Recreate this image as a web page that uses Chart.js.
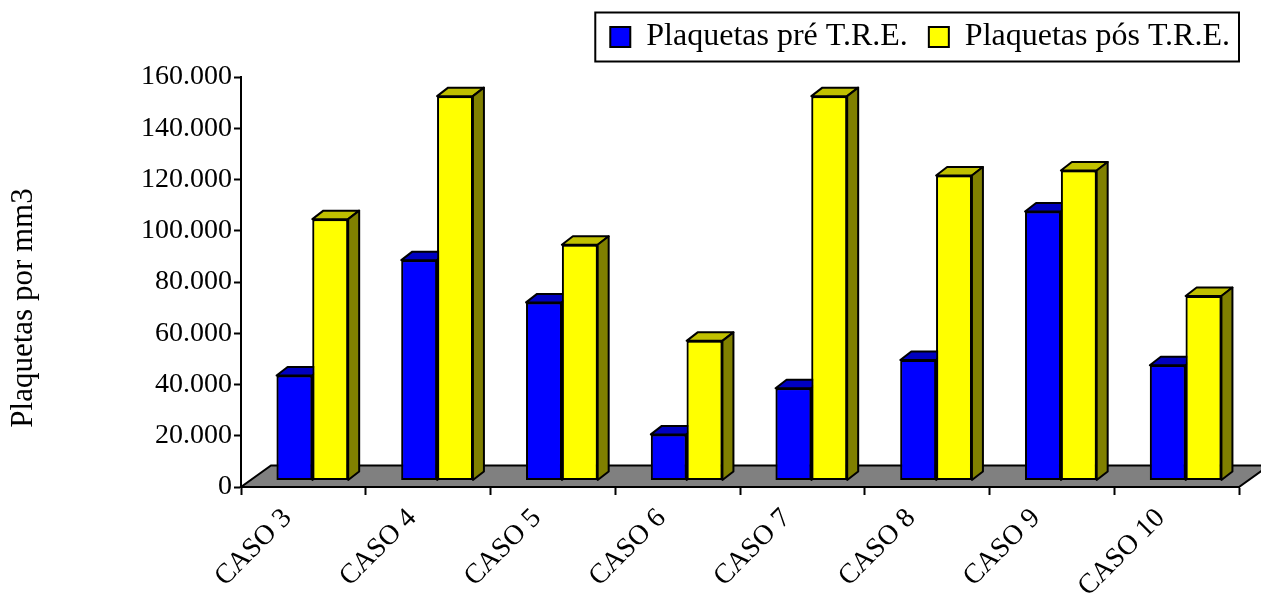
<!DOCTYPE html>
<html lang="pt">
<head>
<meta charset="utf-8">
<title>Plaquetas por mm3</title>
<script src="https://cdn.jsdelivr.net/npm/chart.js@4/dist/chart.umd.min.js"></script>
<style>
  html, body { margin: 0; padding: 0; background: #fff; }
  #chartBox { width: 1261px; height: 593px; }
</style>
</head>
<body>
<div id="chartBox"><canvas id="plaquetasChart" width="1261" height="593"></canvas></div>
<script>
// Dados
const categorias = ['CASO 3', 'CASO 4', 'CASO 5', 'CASO 6', 'CASO 7', 'CASO 8', 'CASO 9', 'CASO 10'];
const plaquetasPre = [41000, 86000, 69500, 18000, 36000, 47000, 105000, 45000];
const plaquetasPos = [102000, 150000, 92000, 54500, 150000, 119000, 121000, 72000];
const yTickLabels = ['0', '20.000', '40.000', '60.000', '80.000', '100.000', '120.000', '140.000', '160.000'];
const serieNomes = ['Plaquetas pré T.R.E.', 'Plaquetas pós T.R.E.'];
const yTitulo = 'Plaquetas por mm3';

const frontColors = ['#0000FF', '#FFFF00'];
const topColors = ['#0000C0', '#C0C000'];
const sideColors = ['#000080', '#808000'];
const FONT = 'Liberation Serif';

// profundidade do "3D"
const DEPTH = { floorX: 30, floorY: 21.5, shiftX: 9, shiftY: 6.5, barX: 11, barY: 8.5 };

const fake3d = {
    id: 'fake3d',
    beforeDatasetsDraw(chart) {
        const { ctx, scales: { x, y } } = chart;
        const y0 = y.getPixelForValue(0);
        // chao cinzento
        ctx.save();
        ctx.beginPath();
        ctx.moveTo(x.left, y0);
        ctx.lineTo(x.right, y0);
        ctx.lineTo(x.right + DEPTH.floorX, y0 - DEPTH.floorY);
        ctx.lineTo(x.left + DEPTH.floorX, y0 - DEPTH.floorY);
        ctx.closePath();
        ctx.fillStyle = '#808080';
        ctx.fill();
        ctx.lineWidth = 2;
        ctx.strokeStyle = '#000';
        ctx.stroke();
        ctx.restore();
        // barras ficam um pouco "dentro" do chao
        ctx.save();
        ctx.translate(DEPTH.shiftX, -DEPTH.shiftY);
    },
    afterDatasetsDraw(chart) {
        const ctx = chart.ctx;
        const metas = chart.data.datasets.map((d, i) => chart.getDatasetMeta(i));
        categorias.forEach((c, i) => {
            metas.forEach((meta, d) => {
                const bar = meta.data[i];
                const { x, y, base, width } = bar.getProps(['x', 'y', 'base', 'width'], true);
                const l = x - width / 2, r = x + width / 2;
                ctx.lineWidth = 2;
                ctx.strokeStyle = '#000';
                ctx.lineJoin = 'round';
                // topo
                ctx.beginPath();
                ctx.moveTo(l, y);
                ctx.lineTo(l + DEPTH.barX, y - DEPTH.barY);
                ctx.lineTo(r + DEPTH.barX, y - DEPTH.barY);
                ctx.lineTo(r, y);
                ctx.closePath();
                ctx.fillStyle = topColors[d];
                ctx.fill();
                ctx.stroke();
                // lado
                ctx.beginPath();
                ctx.moveTo(r, y);
                ctx.lineTo(r + DEPTH.barX, y - DEPTH.barY);
                ctx.lineTo(r + DEPTH.barX, base - DEPTH.barY);
                ctx.lineTo(r, base);
                ctx.closePath();
                ctx.fillStyle = sideColors[d];
                ctx.fill();
                ctx.stroke();
                // frente por cima
                bar.draw(ctx);
            });
        });
        ctx.restore();
    }
};

const extras = {
    id: 'extras',
    afterDraw(chart) {
        const { ctx, chartArea } = chart;
        // titulo do eixo Y
        ctx.save();
        ctx.translate(24, (chartArea.top + chartArea.bottom) / 2 + 26);
        ctx.rotate(-Math.PI / 2);
        ctx.textAlign = 'center';
        ctx.textBaseline = 'middle';
        ctx.font = '31px "' + FONT + '"';
        ctx.fillStyle = '#000';
        ctx.fillText(yTitulo, 0, 0);
        ctx.restore();
        // moldura da legenda
        const boxes = chart.legend.legendHitBoxes;
        if (boxes && boxes.length) {
            const left = Math.min(...boxes.map(b => b.left)) - 15;
            const right = Math.max(...boxes.map(b => b.left + b.width)) + 9;
            const mid = boxes[0].top + boxes[0].height / 2;
            ctx.save();
            ctx.lineWidth = 2;
            ctx.strokeStyle = '#000';
            ctx.strokeRect(left, mid - 24.5, right - left, 49);
            ctx.restore();
        }
    }
};

document.addEventListener('DOMContentLoaded', function() {
    const ctx = document.getElementById('plaquetasChart');
    new Chart(ctx, {
        type: 'bar',
        data: {
            labels: categorias,
            datasets: [plaquetasPre, plaquetasPos].map((vals, i) => ({
                label: serieNomes[i],
                data: vals,
                backgroundColor: frontColors[i],
                borderColor: '#000',
                borderWidth: 2,
                borderSkipped: false,
                categoryPercentage: 0.574,
                barPercentage: 1.0,
                clip: false
            }))
        },
        options: {
            responsive: false,
            animation: false,
            devicePixelRatio: 1,
            layout: { padding: { top: 0, right: 10, bottom: 0, left: 0 } },
            plugins: {
                legend: {
                    position: 'top',
                    align: 'end',
                    weight: 3000,
                    labels: {
                        font: { family: FONT, size: 32 },
                        color: '#000',
                        boxWidth: 20,
                        boxHeight: 20,
                        padding: 21
                    }
                },
                // titulo vazio: so espaco entre legenda e grafico
                title: {
                    display: true,
                    text: '',
                    padding: 0,
                    font: { size: 14, lineHeight: 1 }
                },
                tooltip: { enabled: false }
            },
            scales: {
                x: {
                    offset: true,
                    grid: { offset: true, drawOnChartArea: false, tickLength: 8, tickColor: '#000', tickWidth: 2 },
                    border: { color: '#000', width: 2 },
                    ticks: {
                        font: { family: FONT, size: 28 },
                        color: '#000',
                        minRotation: 45,
                        maxRotation: 45,
                        padding: 7,
                        labelOffset: -16
                    },
                    afterFit: s => { s.height = 106; }
                },
                y: {
                    min: 0,
                    max: 160000,
                    ticks: {
                        stepSize: 20000,
                        font: { family: FONT, size: 28 },
                        color: '#000',
                        padding: 2,
                        callback: (v, i) => yTickLabels[i]
                    },
                    grid: { drawOnChartArea: false, tickLength: 7, tickColor: '#000', tickWidth: 2 },
                    border: { color: '#000', width: 2 },
                    afterFit: s => { s.width = 241; }
                },
                ySpacer: {
                    position: 'right',
                    grid: { display: false },
                    ticks: { display: false },
                    border: { display: false },
                    afterFit: s => { s.width = 12; }
                }
            }
        },
        plugins: [fake3d, extras]
    });
});
</script>
</body>
</html>
